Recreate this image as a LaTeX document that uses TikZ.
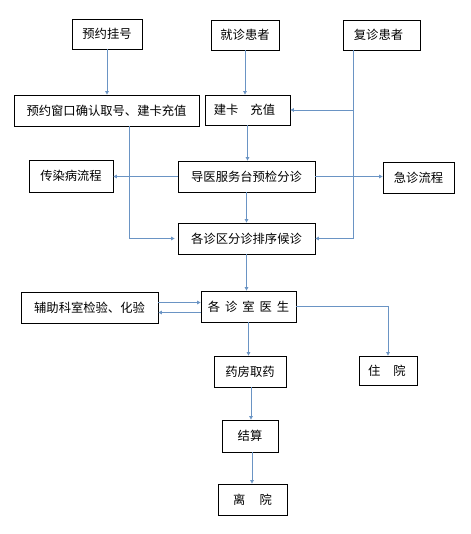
\documentclass[tikz,border=0pt]{standalone}
\usepackage{fontspec}
\setmainfont{Noto Sans CJK SC}
\usetikzlibrary{arrows.meta}
\definecolor{lnblue}{RGB}{106,148,196}
\tikzset{
  box/.style={draw=black, line width=0.8pt, inner sep=0pt, align=center,
    font=\fontsize{12.3}{14}\selectfont},
  conn/.style={draw=lnblue, line width=0.9pt, -{Triangle[length=3.5pt,width=3.5pt]}},
  plain/.style={draw=lnblue, line width=0.9pt}
}
\newcommand{\gp}[1]{\hspace*{#1}}
\begin{document}
\begin{tikzpicture}[x=1pt,y=-1pt]
\useasboundingbox (0,0) rectangle (470,534);
% row 1
\node[box, minimum width=70pt, minimum height=30pt] (yygh) at (107,34) {预约挂号};
\node[box, minimum width=68pt, minimum height=30pt] (jzhz) at (245,35) {就诊患者};
\node[box, minimum width=77pt, minimum height=30pt] (fzhz) at (381.5,35) {\gp{-6pt}复诊患者};
% row 2
\node[box, minimum width=185pt, minimum height=31pt] (yyck) at (106.5,110.5) {预约窗口确认取号、建卡充值};
\node[box, minimum width=85pt, minimum height=30pt] (jkcz) at (247.5,110) {\gp{-6pt}建卡\gp{12pt}充值};
% row 3
\node[box, minimum width=84pt, minimum height=32pt] (crb) at (71,176) {传染病流程};
\node[box, minimum width=137pt, minimum height=31pt] (dy) at (246.5,176.5) {导医服务台预检分诊};
\node[box, minimum width=71pt, minimum height=31pt] (jz) at (418.5,177.5) {急诊流程};
% row 4
\node[box, minimum width=137pt, minimum height=31pt] (hz) at (246.5,238.5) {各诊区分诊排序候诊};
% row 5
\node[box, minimum width=137pt, minimum height=31pt] (fz) at (89.5,307.5) {辅助科室检验、化验};
\node[box, minimum width=95pt, minimum height=31pt] (ys) at (248.5,306.5) {各\gp{5pt}诊\gp{5pt}室\gp{5pt}医\gp{5pt}生};
% row 6
\node[box, minimum width=72pt, minimum height=31pt] (yf) at (250,371.5) {药房取药};
\node[box, minimum width=58pt, minimum height=29pt] (zy) at (388,370.5) {\gp{-2pt}住\gp{13pt}院};
% row 7
\node[box, minimum width=56pt, minimum height=32pt] (js) at (250,436) {结算};
\node[box, minimum width=69pt, minimum height=31pt] (ly) at (252.5,499.5) {离\gp{14pt}院};

% connectors
\draw[conn] (yygh.south) -- (yygh.south |- yyck.north);
\draw[conn] (jzhz.south) -- (jzhz.south |- jkcz.north);
\coordinate (fzb) at ([xshift=-28.5pt]fzhz.south);
\draw[plain] (fzb) -- (fzb |- hz.east);
\draw[conn] (fzb |- jkcz.east) -- (jkcz.east);
\draw[conn] (fzb |- hz.east) -- (hz.east);
\coordinate (ckb) at ([xshift=22.5pt]yyck.south);
\draw[conn] (ckb) -- (ckb |- hz.west) -- ([xshift=-3pt]hz.west);
\draw[conn] (jkcz.south) -- (jkcz.south |- dy.north);
\draw[conn] (dy.west) -- (crb.east |- dy.west);
\draw[conn] (dy.east) -- (jz.west |- dy.east);
\draw[conn] (dy.south) -- (hz.north);
\draw[conn] (hz.south) -- (hz.south |- ys.north);
\draw[conn] ([yshift=5pt]fz.east) -- ([yshift=5pt]fz.east -| ys.west);
\draw[conn] ([yshift=-6pt]ys.west) -- ([yshift=-6pt]ys.west -| fz.east);
\draw[conn] (ys.east) -| (zy.north);
\draw[conn] (ys.south) -- (ys.south |- yf.north);
\draw[conn] ([xshift=1pt]yf.south) -- ([xshift=1pt]yf.south |- js.north);
\draw[conn] ([xshift=2pt]js.south) -- ([xshift=2pt]js.south |- ly.north);
\end{tikzpicture}
\end{document}
